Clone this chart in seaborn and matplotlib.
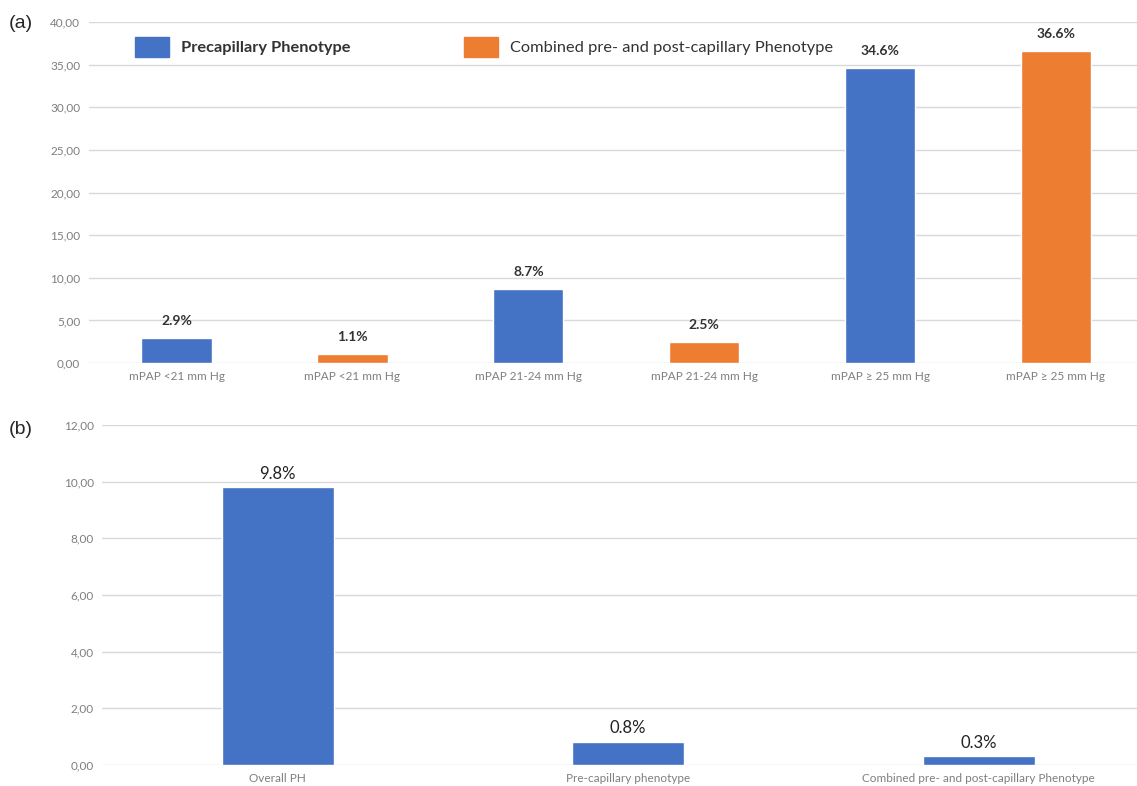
import pandas as pd
import matplotlib.pyplot as plt
import seaborn as sns
from matplotlib.patches import Patch

# datos panel (a)
cats_a = ["mPAP <21 mm Hg", "mPAP <21 mm Hg", "mPAP 21-24 mm Hg",
          "mPAP 21-24 mm Hg", "mPAP \u2265 25 mm Hg", "mPAP \u2265 25 mm Hg"]
fenotipo_a = ["Precapillary Phenotype", "Combined pre- and post-capillary Phenotype"] * 3
valores_a = [2.9, 1.1, 8.7, 2.5, 34.6, 36.6]

# datos panel (b)
cats_b = ["Overall PH", "Pre-capillary phenotype",
          "Combined pre- and post-capillary Phenotype"]
valores_b = [9.8, 0.8, 0.3]

df_a = pd.DataFrame({"pos": range(len(cats_a)), "valor": valores_a, "fenotipo": fenotipo_a})
df_b = pd.DataFrame({"cat": cats_b, "valor": valores_b})

azul = "#4472C4"
naranja = "#ED7D31"
gris = "#7f7f7f"

sns.set_theme(style="white")
plt.rcParams['font.family'] = ['Lato', 'DejaVu Sans']

fig = plt.figure(figsize=(11.37, 7.86), dpi=100)
ax1 = fig.add_axes([0.078, 0.538, 0.928, 0.434])
ax2 = fig.add_axes([0.090, 0.027, 0.925, 0.432])


def estilo(ax, ymax, paso):
    ax.set_ylim(0, ymax)
    ax.set_yticks([i * paso for i in range(int(ymax / paso) + 1)])
    ax.set_yticklabels([f"{i * paso:.2f}".replace(".", ",") for i in range(int(ymax / paso) + 1)],
                       color=gris, fontsize=8.5)
    ax.yaxis.grid(True, color="#d9d9d9", linewidth=1)
    ax.set_axisbelow(True)
    for s in ax.spines.values():
        s.set_visible(False)
    ax.tick_params(axis="both", length=0, pad=6)
    ax.set_xlabel("")
    ax.set_ylabel("")


# panel (a)
sns.barplot(data=df_a, x="pos", y="valor", hue="fenotipo", dodge=False, width=0.4,
            palette=[azul, naranja], legend=False, ax=ax1, saturation=1)
estilo(ax1, 40, 5)
ax1.set_xticks(range(len(cats_a)))
ax1.set_xticklabels(cats_a, color=gris, fontsize=8.5)
ax1.set_xlim(-0.5, len(cats_a) - 0.5)
for i, v in enumerate(valores_a):
    ax1.text(i, v + 1.3, f"{v}%", ha="center", va="bottom", fontsize=10,
             weight="bold", color="#333333")

# leyenda manual
handles = [Patch(facecolor=azul, edgecolor=azul), Patch(facecolor=naranja, edgecolor=naranja)]
leg = ax1.legend(handles, ["Precapillary Phenotype", "Combined pre- and post-capillary Phenotype"],
                 ncol=2, loc="upper left", bbox_to_anchor=(0.0295, 1.0), frameon=False,
                 fontsize=11.8, handlelength=2.1, handleheight=1.5, columnspacing=6.9,
                 handletextpad=0.73)
leg.get_texts()[0].set_weight("bold")
for t in leg.get_texts():
    t.set_color("#333333")

# panel (b)
sns.barplot(data=df_b, x="cat", y="valor", color=azul, width=0.32, ax=ax2, saturation=1)
estilo(ax2, 12, 2)
ax2.set_xticks(range(len(cats_b)))
ax2.set_xticklabels(cats_b, color=gris, fontsize=8.5)
ax2.set_xlim(-0.5, len(cats_b) - 0.5)
for i, v in enumerate(valores_b):
    ax2.text(i, v + 0.2, f"{v}%", ha="center", va="bottom", fontsize=12, color="#222222")

fig.text(0.008, 0.965, "(a)", fontsize=14, family="Liberation Sans")
fig.text(0.008, 0.448, "(b)", fontsize=14, family="Liberation Sans")

fig.savefig("out.png", dpi=100)
